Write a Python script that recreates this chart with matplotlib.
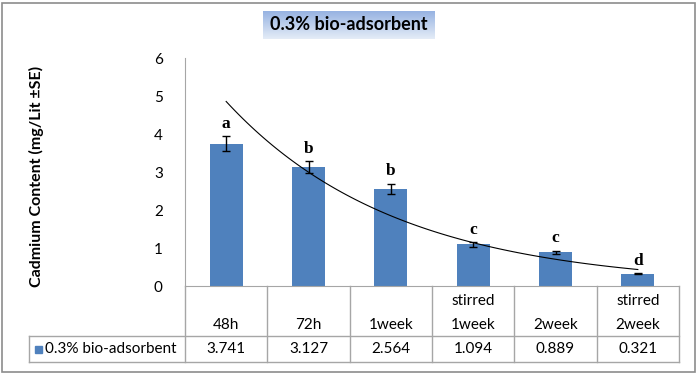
import numpy as np
import matplotlib
matplotlib.use("Agg")
import matplotlib.pyplot as plt
from matplotlib.patches import Rectangle

# values
categories = ["48h", "72h", "1week", "stirred\n1week", "2week", "stirred\n2week"]
cadmium = [3.741, 3.127, 2.564, 1.094, 0.889, 0.321]
std_err = [0.20, 0.16, 0.13, 0.065, 0.045, 0.015]
letters = ["a", "b", "b", "c", "c", "d"]
series_name = "0.3% bio-adsorbent"
chart_title = "0.3% bio-adsorbent"
y_label = "Cadmium Content (mg/Lit \u00b1SE)"
y_ticks = [0, 1, 2, 3, 4, 5, 6]

BAR_COLOR = "#4f81bd"
GRID_COLOR = "#a6a6a6"
FONT = "Lato"

W, H = 698, 374
fig = plt.figure(figsize=(W / 100, H / 100), dpi=100)
plt.rcParams['font.family'] = [FONT, 'DejaVu Sans']

# outer frame of the chart
fig.patches.append(Rectangle((2 / W, 2 / H), 1 - 5 / W, 1 - 5 / H, transform=fig.transFigure,
                             fill=False, edgecolor="#8c8c8c", linewidth=1.2))

# plot area in pixels: x 185..679, y 58..286
ax = fig.add_axes([185 / W, 1 - 286 / H, (679 - 185) / W, (286 - 58) / H])
x = np.arange(1, len(cadmium) + 1)
ax.bar(x, cadmium, width=0.4, color=BAR_COLOR, zorder=2)
ax.errorbar(x, cadmium, yerr=std_err, fmt="none", ecolor="black", elinewidth=1,
            capsize=3, capthick=1, zorder=3)

# exponential trendline (least squares in log space, as Excel does)
b, lna = np.polyfit(x, np.log(cadmium), 1)
xs = np.linspace(1, len(cadmium), 100)
ax.plot(xs, np.exp(lna) * np.exp(b * xs), color="black", linewidth=0.8, zorder=4)

for xi, v, e, letter in zip(x, cadmium, std_err, letters):
  ax.annotate(letter, (xi, v + e), xytext=(0, 3), textcoords="offset points",
              ha="center", va="bottom", fontsize=12.5, fontweight="bold",
              family="Liberation Serif")

ax.set_xlim(0.5, len(cadmium) + 0.5)
ax.set_ylim(0, 6)
ax.set_yticks(y_ticks)
ax.set_xticks([])
ax.tick_params(axis="y", length=0, pad=16, labelsize=11)
for side in ["top", "right"]:
  ax.spines[side].set_visible(False)
ax.spines["left"].set_color(GRID_COLOR)
ax.spines["bottom"].set_color(GRID_COLOR)

# data table under the axis
aw = 679 - 185
ah = 286 - 58
row1 = -(336 - 286) / ah
row2 = -(362 - 286) / ah
leg_left = (29 - 185) / aw
line_kw = dict(color=GRID_COLOR, linewidth=1, transform=ax.transAxes, clip_on=False)
for i in range(len(cadmium) + 1):
  xf = i / len(cadmium)
  ax.plot([xf, xf], [0, row2], **line_kw)
ax.plot([leg_left, leg_left], [row1, row2], **line_kw)
ax.plot([leg_left, 1], [row1, row1], **line_kw)
ax.plot([leg_left, 1], [row2, row2], **line_kw)

for i, (cat, v) in enumerate(zip(categories, cadmium)):
  xc = (i + 0.5) / len(cadmium)
  ax.text(xc, row1 + 4 / ah, cat, transform=ax.transAxes, ha="center", va="bottom",
          fontsize=11, linespacing=1.95)
  ax.text(xc, (row1 + row2) / 2, f"{v:.3f}", transform=ax.transAxes, ha="center",
          va="center", fontsize=11)

ax.add_patch(Rectangle((leg_left + 6 / aw, (row1 + row2) / 2 - 3.5 / ah), 7 / aw, 7 / ah,
                       transform=ax.transAxes, color=BAR_COLOR, clip_on=False))
ax.text(leg_left + 16 / aw, (row1 + row2) / 2, series_name, transform=ax.transAxes,
        ha="left", va="center", fontsize=11)

fig.text(36 / W, 1 - 176 / H, y_label, rotation=90, ha="center", va="center",
         fontsize=11.5, fontweight="bold")

# title in a gradient box
tax = fig.add_axes([263 / W, 1 - 39 / H, (435 - 263) / W, (39 - 11) / H])
top = np.array(matplotlib.colors.to_rgb("#97b3e2"))
bottom = np.array(matplotlib.colors.to_rgb("#e4ecf7"))
grad = np.linspace(0, 1, 50)[:, None, None]
tax.imshow(top + (bottom - top) * grad, aspect="auto", extent=(0, 1, 0, 1))
tax.axis("off")
tax.text(0.5, 0.5, chart_title, ha="center", va="center", fontsize=13,
         fontweight="bold", transform=tax.transAxes)

fig.savefig("out.png", dpi=100)
